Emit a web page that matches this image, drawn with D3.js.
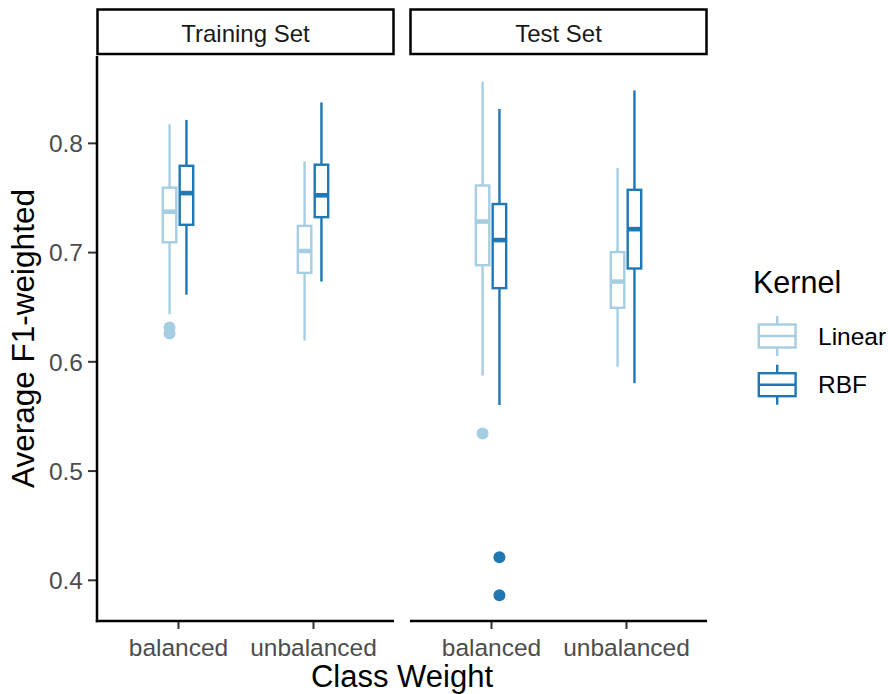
<!DOCTYPE html>
<html>
<head>
<meta charset="utf-8">
<script src="https://cdn.jsdelivr.net/npm/d3@7"></script>
<style>
  html, body { margin: 0; padding: 0; background: #fff; }
  svg { display: block; font-family: "Liberation Sans", Arial, sans-serif; }
</style>
</head>
<body>
<svg id="chart" width="888" height="694"></svg>
<script>
// ---- data ----
const panels = ["Training Set", "Test Set"];
const classWeights = ["balanced", "unbalanced"];
const kernels = ["Linear", "RBF"];
const kernelColors = ["#A6CEE3", "#1F78B4"];
const yTicks = [0.4, 0.5, 0.6, 0.7, 0.8];

// box order: panel -> class weight -> kernel
const boxPanel  = ["Training Set","Training Set","Training Set","Training Set","Test Set","Test Set","Test Set","Test Set"];
const boxWeight = ["balanced","balanced","unbalanced","unbalanced","balanced","balanced","unbalanced","unbalanced"];
const boxKernel = ["Linear","RBF","Linear","RBF","Linear","RBF","Linear","RBF"];
const lowerWhisker = [0.643, 0.661, 0.619, 0.673, 0.587, 0.560, 0.595, 0.580];
const q1           = [0.709, 0.725, 0.681, 0.732, 0.688, 0.667, 0.649, 0.685];
const median       = [0.737, 0.754, 0.701, 0.752, 0.728, 0.711, 0.673, 0.721];
const q3           = [0.759, 0.779, 0.724, 0.780, 0.761, 0.744, 0.700, 0.757];
const upperWhisker = [0.817, 0.821, 0.783, 0.837, 0.856, 0.831, 0.777, 0.848];
const outliers = [[0.631, 0.6255], [], [], [], [0.534], [0.4206, 0.3858], [], []];

// ---- layout ----
const svg = d3.select("#chart");
const panelTop = 56, panelBottom = 621;
const panelX = [[97, 394], [410, 707]];
const stripTop = 9.5, stripBottom = 54;
const axisColor = "#000";
const tickColor = "#333333";
const tickTextColor = "#4D4D4D";

const allVals = lowerWhisker.concat(upperWhisker, outliers.flat());
const ymin = d3.min(allVals), ymax = d3.max(allVals);
const pad = (ymax - ymin) * 0.05;
const y = d3.scaleLinear().domain([ymin - pad, ymax + pad]).range([panelBottom, panelTop]);
const color = d3.scaleOrdinal().domain(kernels).range(kernelColors);

// y axis (left panel only)
const yAxis = d3.axisLeft(y).tickValues(yTicks).tickSize(9).tickPadding(5).tickFormat(d3.format(".1f"));
const gy = svg.append("g").attr("transform", `translate(${panelX[0][0]},0)`).call(yAxis);
gy.select(".domain").remove();
gy.selectAll(".tick line").attr("stroke", tickColor).attr("stroke-width", 2);
gy.selectAll(".tick text").attr("fill", tickTextColor).attr("font-size", 24.5)
  .attr("font-family", "Liberation Sans, Arial, sans-serif").attr("dy", "0.36em");
svg.append("line").attr("x1", panelX[0][0]).attr("x2", panelX[0][0])
  .attr("y1", panelTop).attr("y2", panelBottom + 1.2)
  .attr("stroke", axisColor).attr("stroke-width", 2.5);

panels.forEach((p, pi) => {
  const [x0, x1] = panelX[pi];
  const x = d3.scalePoint().domain(classWeights).range([x0, x1]).padding(0.6);
  const step = x.step();
  const dodge = d3.scaleBand().domain(kernels).range([-0.125 * step, 0.125 * step]);
  const boxW = 0.1 * step;

  // strip
  svg.append("rect").attr("x", x0 + 0.5).attr("y", stripTop).attr("width", x1 - x0 - 1)
    .attr("height", stripBottom - stripTop).attr("fill", "#fff")
    .attr("stroke", "#000").attr("stroke-width", 2.5);
  svg.append("text").attr("x", (x0 + x1) / 2).attr("y", 41.5).attr("text-anchor", "middle")
    .attr("font-size", 24).attr("fill", "#1A1A1A").text(p);

  // x axis
  const xAxis = d3.axisBottom(x).tickSize(8).tickPadding(9);
  const gx = svg.append("g").attr("transform", `translate(0,${panelBottom})`).call(xAxis);
  gx.select(".domain").remove();
  gx.selectAll(".tick line").attr("stroke", tickColor).attr("stroke-width", 2);
  gx.selectAll(".tick text").attr("fill", tickTextColor).attr("font-size", 24.5)
    .attr("font-family", "Liberation Sans, Arial, sans-serif").attr("dy", "0.75em");
  svg.append("line").attr("x1", x0 - (pi === 0 ? 1.2 : 0)).attr("x2", x1)
    .attr("y1", panelBottom).attr("y2", panelBottom)
    .attr("stroke", axisColor).attr("stroke-width", 2.5);

  // boxes
  const idx = d3.range(boxPanel.length).filter(i => boxPanel[i] === p);
  const g = svg.append("g");
  idx.forEach(i => {
    const cx = x(boxWeight[i]) + dodge(boxKernel[i]) + dodge.bandwidth() / 2;
    const c = color(boxKernel[i]);
    g.append("line").attr("x1", cx).attr("x2", cx)
      .attr("y1", y(upperWhisker[i])).attr("y2", y(q3[i]))
      .attr("stroke", c).attr("stroke-width", 2.4);
    g.append("line").attr("x1", cx).attr("x2", cx)
      .attr("y1", y(q1[i])).attr("y2", y(lowerWhisker[i]))
      .attr("stroke", c).attr("stroke-width", 2.4);
    g.append("rect").attr("x", cx - boxW / 2).attr("width", boxW)
      .attr("y", y(q3[i])).attr("height", y(q1[i]) - y(q3[i]))
      .attr("fill", "#fff").attr("stroke", c).attr("stroke-width", 2.4);
    g.append("line").attr("x1", cx - boxW / 2).attr("x2", cx + boxW / 2)
      .attr("y1", y(median[i])).attr("y2", y(median[i]))
      .attr("stroke", c).attr("stroke-width", 4.6);
    outliers[i].forEach(v => {
      g.append("circle").attr("cx", cx).attr("cy", y(v)).attr("r", 6).attr("fill", c);
    });
  });
});

// axis titles
svg.append("text").attr("x", (panelX[0][0] + panelX[1][1]) / 2).attr("y", 687)
  .attr("text-anchor", "middle").attr("font-size", 31).attr("fill", "#000").text("Class Weight");
svg.append("text").attr("transform", `translate(34,${(panelTop + panelBottom) / 2}) rotate(-90)`)
  .attr("text-anchor", "middle").attr("font-size", 31.5).attr("fill", "#000").text("Average F1-weighted");

// legend
const legend = svg.append("g");
legend.append("text").attr("x", 753).attr("y", 293).attr("font-size", 30.5).attr("fill", "#000").text("Kernel");
const keyCy = d3.scalePoint().domain(kernels).range([336, 384.7]);
kernels.forEach(k => {
  const cy = keyCy(k), c = color(k);
  const kx = 777.2;
  legend.append("line").attr("x1", kx).attr("x2", kx).attr("y1", cy - 20).attr("y2", cy + 20)
    .attr("stroke", c).attr("stroke-width", 2.4);
  legend.append("rect").attr("x", kx - 18.4).attr("y", cy - 11.5).attr("width", 36.8).attr("height", 23)
    .attr("fill", "#fff").attr("stroke", c).attr("stroke-width", 2.4);
  legend.append("line").attr("x1", kx - 18.4).attr("x2", kx + 18.4).attr("y1", cy).attr("y2", cy)
    .attr("stroke", c).attr("stroke-width", 2.4);
  legend.append("text").attr("x", 818).attr("y", cy + 8.5).attr("font-size", 24.5).attr("fill", "#000").text(k);
});
</script>
</body>
</html>
